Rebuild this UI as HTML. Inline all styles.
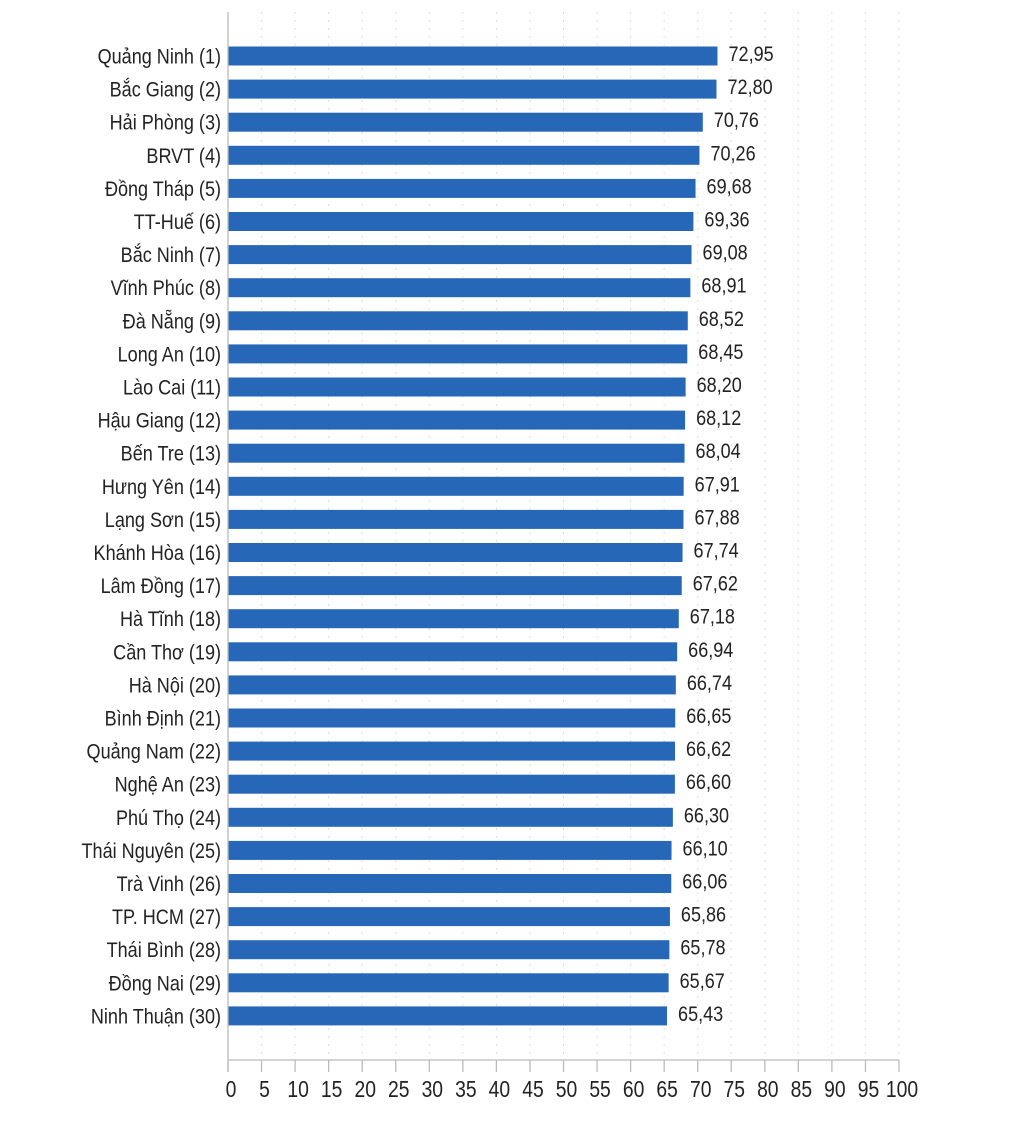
<!DOCTYPE html>
<html><head><meta charset="utf-8"><style>
html,body{margin:0;padding:0;background:#fff;}
svg text{font-family:"Liberation Sans Narrow","Liberation Sans",sans-serif;fill:#222;}
</style></head><body>
<svg id="c" width="1023" height="1132" xmlns="http://www.w3.org/2000/svg"></svg>
<script>
const d=[["Quảng Ninh (1)",72.95],["Bắc Giang (2)",72.80],["Hải Phòng (3)",70.76],["BRVT (4)",70.26],["Đồng Tháp (5)",69.68],["TT-Huế (6)",69.36],["Bắc Ninh (7)",69.08],["Vĩnh Phúc (8)",68.91],["Đà Nẵng (9)",68.52],["Long An (10)",68.45],["Lào Cai (11)",68.20],["Hậu Giang (12)",68.12],["Bến Tre (13)",68.04],["Hưng Yên (14)",67.91],["Lạng Sơn (15)",67.88],["Khánh Hòa (16)",67.74],["Lâm Đồng (17)",67.62],["Hà Tĩnh (18)",67.18],["Cần Thơ (19)",66.94],["Hà Nội (20)",66.74],["Bình Định (21)",66.65],["Quảng Nam (22)",66.62],["Nghệ An (23)",66.60],["Phú Thọ (24)",66.30],["Thái Nguyên (25)",66.10],["Trà Vinh (26)",66.06],["TP. HCM (27)",65.86],["Thái Bình (28)",65.78],["Đồng Nai (29)",65.67],["Ninh Thuận (30)",65.43]];
const x0=228,k=6.71,sc=0.84;let s="";
function t(x,y,str,anc,fs){return `<text transform="translate(${x},${y}) scale(${sc},1)" font-size="${fs}" text-anchor="${anc}">${str}</text>`;}
for(let v=5;v<=100;v+=5){const x=x0+v*k;s+=`<line x1="${x}" y1="12" x2="${x}" y2="1060" stroke="#ddd" stroke-width="1" stroke-dasharray="2,6"/>`;}
d.forEach((r,i)=>{const cy=56+i*33.1;const w=r[1]*k;
s+=`<rect x="${x0}" y="${cy-9.5}" width="${w}" height="19" fill="#2767b8"/>`;
s+=t(221,cy+7.5,r[0],"end",21.5);
s+=t(x0+w+11,cy+5,r[1].toFixed(2).replace('.',','),"start",21.5);});
s+=`<line x1="${x0}" y1="12" x2="${x0}" y2="1072" stroke="#bbb" stroke-width="1.3"/>`;
s+=`<line x1="${x0}" y1="1060" x2="${x0+100*k}" y2="1060" stroke="#bbb" stroke-width="1.3"/>`;
for(let v=0;v<=100;v+=5){const x=x0+v*k;s+=`<line x1="${x}" y1="1060" x2="${x}" y2="1072" stroke="#bbb" stroke-width="1.3"/>`;
s+=t(x+3,1097,v,"middle",23);}
document.getElementById('c').innerHTML=s;
</script>
</body></html>
